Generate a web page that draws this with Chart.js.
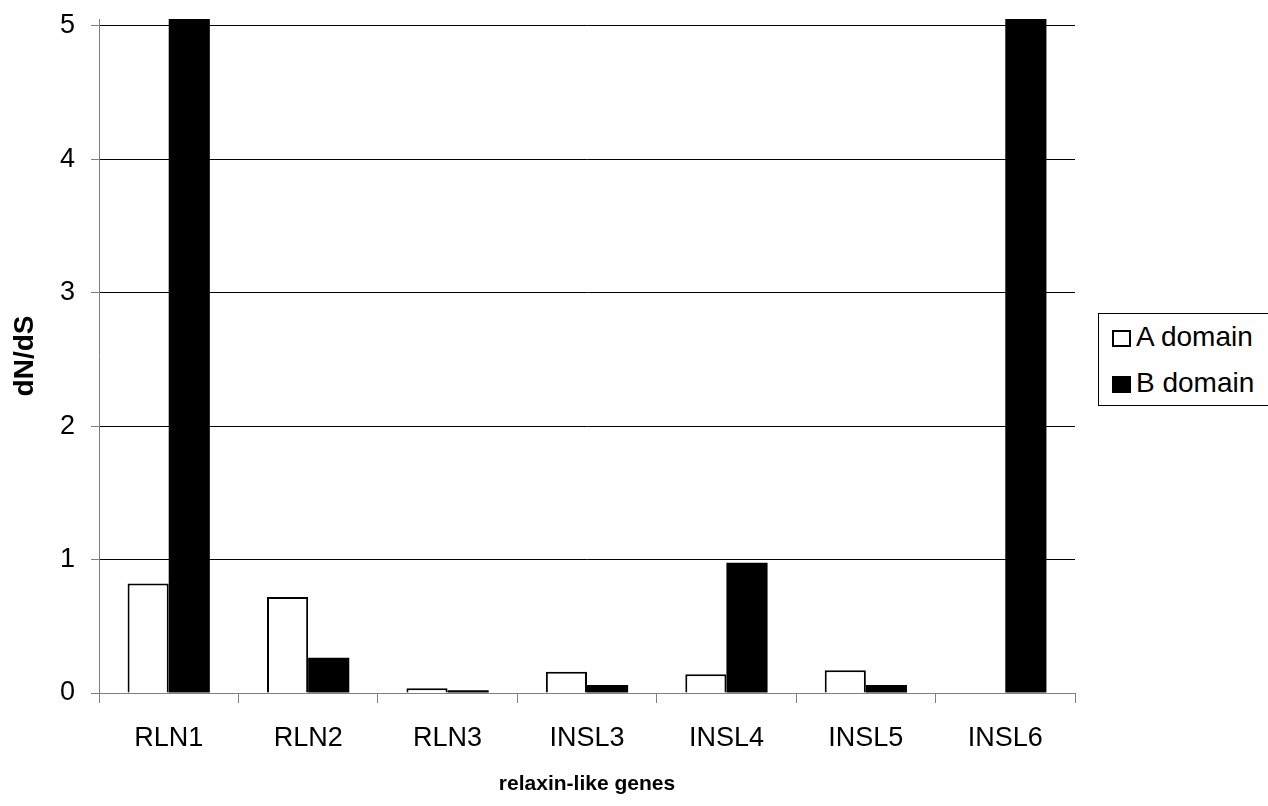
<!DOCTYPE html>
<html>
<head>
<meta charset="utf-8">
<script src="https://cdn.jsdelivr.net/npm/chart.js@4/dist/chart.umd.min.js"></script>
<style>
  html, body { margin: 0; padding: 0; background: #fff; overflow: hidden; }
  #wrap { position: relative; width: 1268px; height: 806px; }
  #legend {
    position: absolute; left: 1098px; top: 313px; width: 190px; height: 93px;
    border: 1px solid #000; background: #fff; box-sizing: border-box;
    font: 28px "Liberation Sans", Arial, sans-serif; color: #000;
  }
  #legend .item { position: absolute; left: 13px; height: 30px; line-height: 30px; white-space: nowrap; }
  #legend .sw { display: inline-block; width: 19px; height: 17px; border: 2px solid #000; box-sizing: border-box; margin-right: 5px; vertical-align: -1px; }
</style>
</head>
<body>
<div id="wrap">
  <canvas id="c" width="1268" height="806"></canvas>
  <div id="legend"></div>
</div>
<script>
'use strict';

/* ───── DATA ───────────────────────────────────────────────────────────── */
const genes   = ['RLN1', 'RLN2', 'RLN3', 'INSL3', 'INSL4', 'INSL5', 'INSL6'];
// B domain for RLN1 and INSL6 runs off the top of the axis (clipped at 5.05)
const aDomain = [0.82, 0.72, 0.035, 0.16, 0.14, 0.17, 0];
const bDomain = [5.05, 0.265, 0.02, 0.06, 0.975, 0.06, 5.05];
const yTicks  = [0, 1, 2, 3, 4, 5];

const FONT = '"Liberation Sans", Arial, sans-serif';

/* ───── LEGEND (html, real text) ──────────────────────────────────────── */
const legendItems = [
    { label: 'A domain', fill: '#fff' },
    { label: 'B domain', fill: '#000' },
];
const legendEl = document.getElementById('legend');
legendItems.forEach((it, i) => {
    const d = document.createElement('div');
    d.className = 'item';
    d.style.top = (8 + i * 46) + 'px';
    d.innerHTML = `<span class="sw" style="background:${it.fill}"></span>${it.label}`;
    legendEl.appendChild(d);
});

/* ───── CHART ──────────────────────────────────────────────────────────── */
new Chart(document.getElementById('c').getContext('2d'), {
    type: 'bar',
    data: {
        labels: genes,
        datasets: [
            { label: 'A domain', data: aDomain, backgroundColor: '#fff', borderColor: '#000', borderWidth: 2 },
            { label: 'B domain', data: bDomain, backgroundColor: '#000', borderColor: '#000', borderWidth: 0 },
        ],
    },
    options: {
        responsive: false, animation: false,
        categoryPercentage: 0.59, barPercentage: 1,
        layout: { padding: { top: 19, right: 193, left: 0, bottom: 0 } },
        plugins: { legend: { display: false }, tooltip: { enabled: false } },
        scales: {
            x: {
                grid: { drawOnChartArea: false, offset: true, tickLength: 10, color: '#808080' },
                border: { color: '#808080' },
                ticks: { color: '#000', font: { family: FONT, size: 27 }, padding: 19 },
                title: { display: true, text: 'relaxin-like genes', color: '#000',
                         font: { family: FONT, size: 21, weight: 'bold' }, padding: { top: 0, bottom: 9 } },
                afterFit: s => { s.height = 113; },
            },
            y: {
                min: 0, max: 5.05,
                afterBuildTicks: s => { s.ticks = yTicks.map(v => ({ value: v })); },
                grid: { color: '#000', tickLength: 8, tickColor: '#808080' },
                border: { color: '#808080' },
                ticks: { color: '#000', font: { family: FONT, size: 27 }, padding: 16 },
                title: { display: true, text: 'dN/dS', color: '#000',
                         font: { family: FONT, size: 28, weight: 'bold' }, padding: { top: 8 } },
                afterFit: s => { s.width = 99; s.paddingTop = 0; s.paddingBottom = 0; },
            },
        },
    },
});
</script>
</body>
</html>
